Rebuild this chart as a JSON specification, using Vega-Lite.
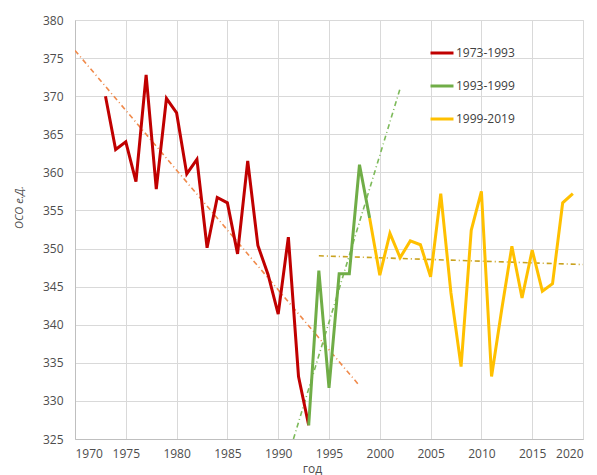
{
  "$schema": "https://vega.github.io/schema/vega-lite/v6.json",
  "width": 508,
  "height": 419,
  "autosize": {"type": "none"},
  "padding": {"left": 75, "top": 20, "right": 14, "bottom": 36},
  "background": "#ffffff",
  "config": {
    "font": "Open Sans",
    "view": {"stroke": "#D9D9D9"},
    "axis": {
      "gridColor": "#D9D9D9",
      "gridWidth": 1,
      "domainColor": "#BFBFBF",
      "ticks": false,
      "labelOverlap": false,
      "labelColor": "#4D4D4D",
      "labelFontSize": 12,
      "labelFont": "Open Sans",
      "titleColor": "#4D4D4D",
      "titleFont": "Open Sans",
      "titleFontWeight": "normal"
    },
    "legend": {
      "labelFont": "Open Sans",
      "labelFontSize": 12,
      "labelColor": "#404040"
    }
  },
  "datasets": {
    "obs": [
      {"year": 1973, "value": 370.0, "series": "1973-1993"},
      {"year": 1974, "value": 363.0, "series": "1973-1993"},
      {"year": 1975, "value": 364.0, "series": "1973-1993"},
      {"year": 1976, "value": 358.8, "series": "1973-1993"},
      {"year": 1977, "value": 372.8, "series": "1973-1993"},
      {"year": 1978, "value": 357.8, "series": "1973-1993"},
      {"year": 1979, "value": 369.7, "series": "1973-1993"},
      {"year": 1980, "value": 367.8, "series": "1973-1993"},
      {"year": 1981, "value": 359.8, "series": "1973-1993"},
      {"year": 1982, "value": 361.7, "series": "1973-1993"},
      {"year": 1983, "value": 350.1, "series": "1973-1993"},
      {"year": 1984, "value": 356.7, "series": "1973-1993"},
      {"year": 1985, "value": 356.0, "series": "1973-1993"},
      {"year": 1986, "value": 349.3, "series": "1973-1993"},
      {"year": 1987, "value": 361.5, "series": "1973-1993"},
      {"year": 1988, "value": 350.4, "series": "1973-1993"},
      {"year": 1989, "value": 346.6, "series": "1973-1993"},
      {"year": 1990, "value": 341.4, "series": "1973-1993"},
      {"year": 1991, "value": 351.5, "series": "1973-1993"},
      {"year": 1992, "value": 333.2, "series": "1973-1993"},
      {"year": 1993, "value": 326.8, "series": "1973-1993"},
      {"year": 1993, "value": 326.8, "series": "1993-1999"},
      {"year": 1994, "value": 347.1, "series": "1993-1999"},
      {"year": 1995, "value": 331.7, "series": "1993-1999"},
      {"year": 1996, "value": 346.7, "series": "1993-1999"},
      {"year": 1997, "value": 346.7, "series": "1993-1999"},
      {"year": 1998, "value": 361.0, "series": "1993-1999"},
      {"year": 1999, "value": 354.0, "series": "1993-1999"},
      {"year": 1999, "value": 354.0, "series": "1999-2019"},
      {"year": 2000, "value": 346.5, "series": "1999-2019"},
      {"year": 2001, "value": 352.0, "series": "1999-2019"},
      {"year": 2002, "value": 348.8, "series": "1999-2019"},
      {"year": 2003, "value": 351.0, "series": "1999-2019"},
      {"year": 2004, "value": 350.5, "series": "1999-2019"},
      {"year": 2005, "value": 346.3, "series": "1999-2019"},
      {"year": 2006, "value": 357.2, "series": "1999-2019"},
      {"year": 2007, "value": 344.2, "series": "1999-2019"},
      {"year": 2008, "value": 334.5, "series": "1999-2019"},
      {"year": 2009, "value": 352.4, "series": "1999-2019"},
      {"year": 2010, "value": 357.5, "series": "1999-2019"},
      {"year": 2011, "value": 333.2, "series": "1999-2019"},
      {"year": 2012, "value": 342.0, "series": "1999-2019"},
      {"year": 2013, "value": 350.3, "series": "1999-2019"},
      {"year": 2014, "value": 343.5, "series": "1999-2019"},
      {"year": 2015, "value": 349.8, "series": "1999-2019"},
      {"year": 2016, "value": 344.4, "series": "1999-2019"},
      {"year": 2017, "value": 345.4, "series": "1999-2019"},
      {"year": 2018, "value": 356.0, "series": "1999-2019"},
      {"year": 2019, "value": 357.2, "series": "1999-2019"}
    ],
    "trend": [
      {"year": 1970, "value": 376.0, "segment": "t1"},
      {"year": 1998, "value": 332.0, "segment": "t1"},
      {"year": 1991.5, "value": 325.0, "segment": "t2"},
      {"year": 2002, "value": 371.0, "segment": "t2"},
      {"year": 1994, "value": 349.05, "segment": "t3"},
      {"year": 2020, "value": 347.9, "segment": "t3"}
    ]
  },
  "encoding": {
    "x": {
      "field": "year",
      "type": "quantitative",
      "scale": {"domain": [1970, 2020], "nice": false, "zero": false},
      "axis": {
        "values": [1970, 1975, 1980, 1985, 1990, 1995, 2000, 2005, 2010, 2015, 2020],
        "format": "d",
        "labelPadding": 9,
        "title": "год",
        "titleFontSize": 12,
        "titleX": 237,
        "titleY": 24,
        "titleAnchor": null
      }
    },
    "y": {
      "field": "value",
      "type": "quantitative",
      "scale": {"domain": [325, 380], "nice": false, "zero": false},
      "axis": {
        "values": [325, 330, 335, 340, 345, 350, 355, 360, 365, 370, 375, 380],
        "labelPadding": 12,
        "title": "ОСО е.Д.",
        "titleFontSize": 11,
        "titleFontStyle": "italic",
        "titleX": -51,
        "titleY": 187
      }
    }
  },
  "layer": [
    {
      "data": {"name": "trend"},
      "mark": {"type": "line", "strokeWidth": 1.6, "strokeDash": [5, 3, 1, 3], "clip": true},
      "encoding": {
        "detail": {"field": "segment"},
        "color": {
          "field": "segment",
          "type": "nominal",
          "scale": {"domain": ["t1", "t2", "t3"], "range": ["#F08A4B", "#7DBA5A", "#C9A21F"]},
          "legend": null
        }
      }
    },
    {
      "data": {"name": "obs"},
      "mark": {"type": "line", "strokeWidth": 3, "strokeJoin": "miter", "clip": true},
      "encoding": {
        "color": {
          "field": "series",
          "type": "nominal",
          "scale": {"domain": ["1973-1993", "1993-1999", "1999-2019"], "range": ["#C00000", "#70AD47", "#FFC000"]},
          "legend": {
            "title": null,
            "orient": "none",
            "legendX": 354,
            "legendY": 20,
            "padding": 0,
            "symbolType": "stroke",
            "symbolSize": 529,
            "symbolStrokeWidth": 3,
            "labelOffset": 1,
            "rowPadding": 14
          }
        }
      }
    }
  ],
  "resolve": {"scale": {"color": "independent"}}
}
